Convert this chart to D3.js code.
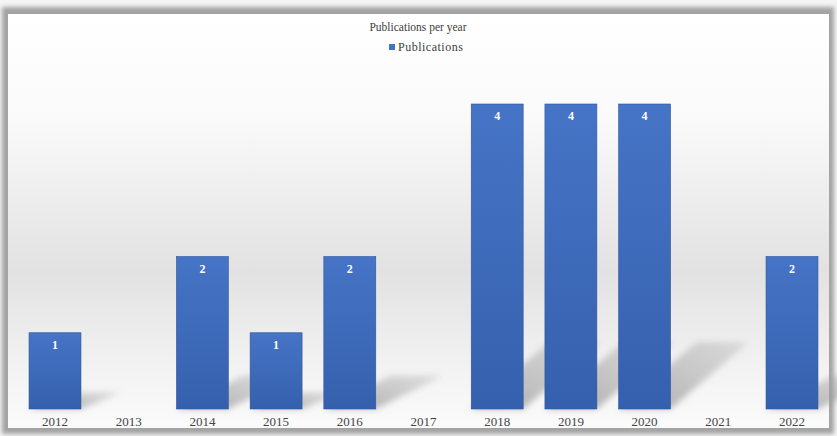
<!DOCTYPE html>
<html>
<head>
<meta charset="utf-8">
<script src="https://cdn.jsdelivr.net/npm/d3@7"></script>
<style>
  body { margin: 0; background: #f4f4f4; }
  text { font-family: "Liberation Serif", "Times New Roman", serif; }
</style>
</head>
<body>
<div id="chart"></div>
<script>
// data
var years = ["2012", "2013", "2014", "2015", "2016", "2017", "2018", "2019", "2020", "2021", "2022"];
var publications = [1, 0, 2, 1, 2, 0, 4, 4, 4, 0, 2];
var seriesName = "Publications";
var chartTitle = "Publications per year";

var W = 837, H = 436;

var svg = d3.select("#chart").append("svg")
    .attr("width", W)
    .attr("height", H);

var defs = svg.append("defs");

defs.append("filter").attr("id", "blur2")
    .attr("x", "-5%").attr("y", "-5%").attr("width", "110%").attr("height", "110%")
    .append("feGaussianBlur").attr("stdDeviation", 2.2);

defs.append("filter").attr("id", "blurShadow")
    .attr("x", "-30%").attr("y", "-30%").attr("width", "160%").attr("height", "160%")
    .append("feGaussianBlur").attr("stdDeviation", 3);

// background gradient of plot area
var bg = defs.append("linearGradient").attr("id", "bgGrad")
    .attr("x1", 0).attr("y1", 0).attr("x2", 0).attr("y2", 1);
bg.append("stop").attr("offset", "0%").attr("stop-color", "#ffffff");
bg.append("stop").attr("offset", "25%").attr("stop-color", "#fafafa");
bg.append("stop").attr("offset", "62%").attr("stop-color", "#e2e2e2");
bg.append("stop").attr("offset", "85%").attr("stop-color", "#f2f2f2");
bg.append("stop").attr("offset", "100%").attr("stop-color", "#fbfbfb");

var barGrad = defs.append("linearGradient").attr("id", "barGrad")
    .attr("x1", 0).attr("y1", 0).attr("x2", 0).attr("y2", 1);
barGrad.append("stop").attr("offset", "0%").attr("stop-color", "#4674c6");
barGrad.append("stop").attr("offset", "100%").attr("stop-color", "#3560ad");

var shGrad = defs.append("linearGradient").attr("id", "shGrad")
    .attr("x1", 0).attr("y1", 1).attr("x2", 1).attr("y2", 0);
shGrad.append("stop").attr("offset", "0%").attr("stop-color", "#969696").attr("stop-opacity", 0.8);
shGrad.append("stop").attr("offset", "100%").attr("stop-color", "#aaaaaa").attr("stop-opacity", 0.3);

// frame
svg.append("rect")
    .attr("x", 2).attr("y", 7)
    .attr("width", 832).attr("height", 427)
    .attr("fill", "#a3a3a3")
    .attr("filter", "url(#blur2)");

svg.append("rect")
    .attr("x", 8).attr("y", 14)
    .attr("width", 821).attr("height", 414)
    .attr("fill", "url(#bgGrad)");

// scales
var x = d3.scaleBand()
    .domain(years)
    .range([18.15, 828.85])
    .paddingInner(0.295)
    .paddingOuter(0.1475);

var y = d3.scaleLinear()
    .domain([0, 4])
    .range([409, 104]);

var data = years.map(function(d, i) { return { year: d, value: publications[i] }; });
var nonZero = data.filter(function(d) { return d.value > 0; });

// shadows behind bars
var shadowG = svg.append("g").attr("filter", "url(#blurShadow)");
shadowG.selectAll("path")
    .data(nonZero)
    .enter().append("path")
    .attr("fill", "url(#shGrad)")
    .attr("d", function(d) {
        var h = y(0) - y(d.value);
        var dx = Math.min(0.35 * h + 14, 78);
        var dy = 0.22 * h;
        var x0 = x(d.year), x1 = x0 + x.bandwidth(), b = y(0);
        return "M" + x0 + "," + b + "L" + x1 + "," + b +
            "L" + (x1 + dx) + "," + (b - dy) + "L" + (x0 + dx) + "," + (b - dy) + "Z";
    });

// bars
svg.selectAll("rect.bar")
    .data(nonZero)
    .enter().append("rect")
    .attr("class", "bar")
    .attr("x", function(d) { return x(d.year); })
    .attr("y", function(d) { return y(d.value); })
    .attr("width", x.bandwidth())
    .attr("height", function(d) { return y(0) - y(d.value); })
    .attr("fill", "url(#barGrad)")
    .attr("stroke", "#2f579c")
    .attr("stroke-width", 0.6);

// data labels
svg.selectAll("text.data-label")
    .data(nonZero)
    .enter().append("text")
    .attr("class", "data-label")
    .attr("x", function(d) { return x(d.year) + x.bandwidth() / 2; })
    .attr("y", function(d) { return y(d.value) + 16; })
    .attr("text-anchor", "middle")
    .attr("font-size", 12)
    .attr("font-weight", "bold")
    .attr("fill", "#ffffff")
    .text(function(d) { return d.value; });

// x axis labels
var xAxis = d3.axisBottom(x).tickSize(0).tickPadding(8);
var gx = svg.append("g")
    .attr("transform", "translate(0," + y(0) + ")")
    .call(xAxis);
gx.select(".domain").remove();
gx.selectAll("text")
    .attr("font-size", 13)
    .attr("fill", "#454545");

// title
svg.append("text")
    .attr("x", 418).attr("y", 31)
    .attr("text-anchor", "middle")
    .attr("font-size", 11.5)
    .attr("fill", "#404040")
    .text(chartTitle);

// legend
svg.append("rect")
    .attr("x", 389).attr("y", 44)
    .attr("width", 6).attr("height", 6)
    .attr("fill", "#4472c4");
svg.append("text")
    .attr("x", 398).attr("y", 51)
    .attr("font-size", 12)
    .attr("letter-spacing", 0.5)
    .attr("fill", "#404040")
    .text(seriesName);
</script>
</body>
</html>
